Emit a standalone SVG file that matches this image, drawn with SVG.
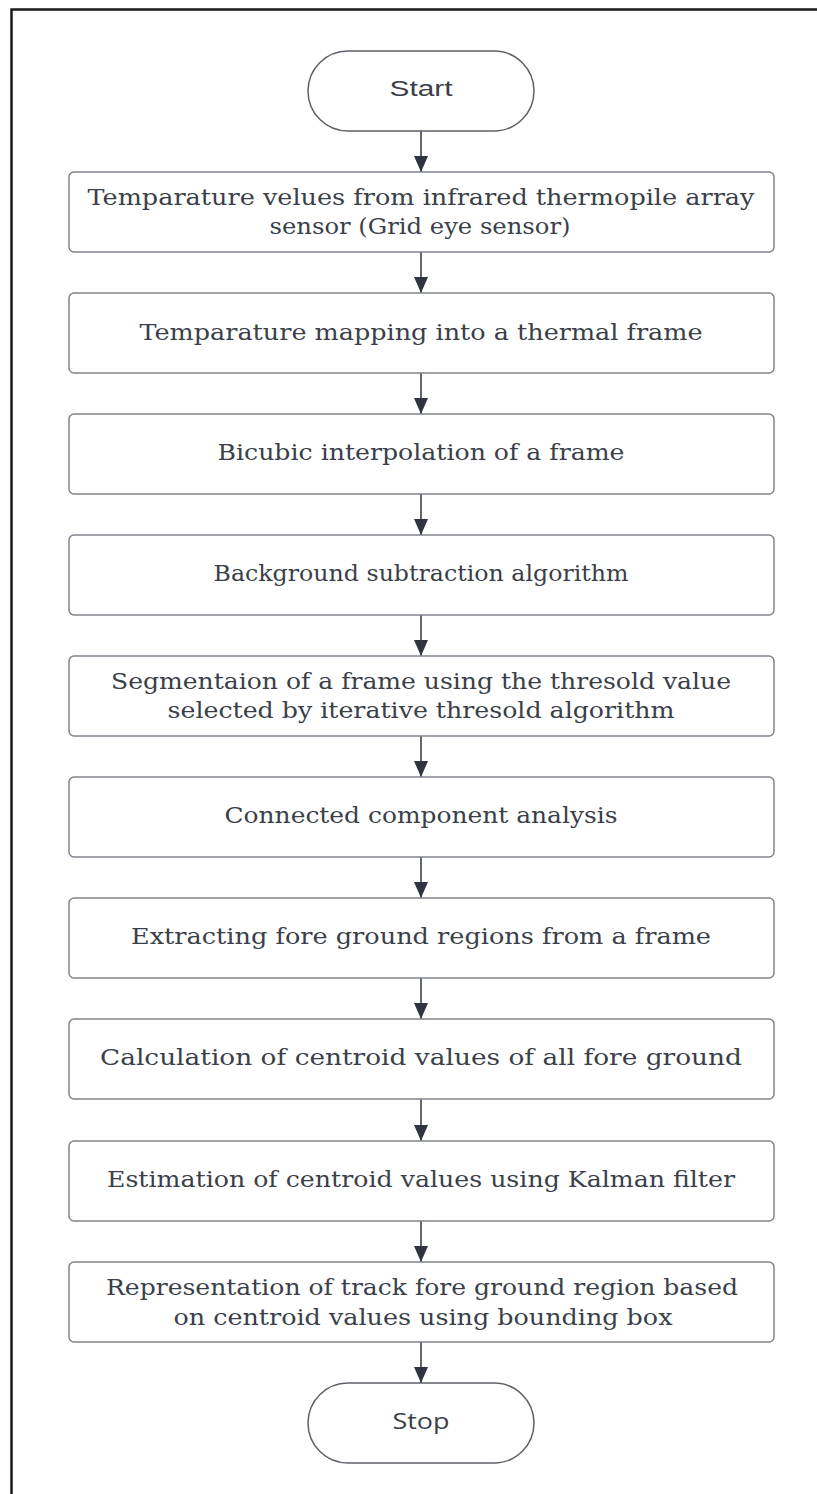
<svg xmlns="http://www.w3.org/2000/svg" width="817" height="1494" viewBox="0 0 817 1494">
  <style>
    .frame { fill: none; stroke: #1a1a1a; stroke-width: 2.5; }
    .term { fill: #ffffff; stroke: #5c6068; stroke-width: 1.5; }
    .box { fill: #ffffff; stroke: #80848c; stroke-width: 1.5; }
    .t { font-family: "DejaVu Serif", "Liberation Serif", serif; font-size: 21.5px; fill: #3a3f4a; text-anchor: middle; }
    .ts { font-family: "Liberation Sans", Arial, sans-serif; font-size: 22px; fill: #3a3f4a; text-anchor: middle; }
    .tso { font-family: "Open Sans", "Noto Sans", sans-serif; font-size: 21px; fill: #3a3f4a; text-anchor: middle; }
    .conn { stroke: #3a3f4a; stroke-width: 1.6; fill: none; }
  </style>
  <defs>
    <marker id="arrow" viewBox="0 0 16 14" refX="16" refY="7" markerWidth="16" markerHeight="14" markerUnits="userSpaceOnUse" orient="auto">
      <path d="M0,0 L16,7 L0,14 Z" fill="#2f3440"/>
    </marker>
  </defs>

  <rect width="817" height="1494" fill="#ffffff"/>
  <!-- outer frame: left and top edges -->
  <path class="frame" d="M11.5,1494 V9.5 H817"/>

  <g id="connectors">
    <line class="conn" x1="421" y1="131" x2="421" y2="172" marker-end="url(#arrow)"/>
    <line class="conn" x1="421" y1="252" x2="421" y2="293" marker-end="url(#arrow)"/>
    <line class="conn" x1="421" y1="373" x2="421" y2="414" marker-end="url(#arrow)"/>
    <line class="conn" x1="421" y1="494" x2="421" y2="535" marker-end="url(#arrow)"/>
    <line class="conn" x1="421" y1="615" x2="421" y2="656" marker-end="url(#arrow)"/>
    <line class="conn" x1="421" y1="736" x2="421" y2="777" marker-end="url(#arrow)"/>
    <line class="conn" x1="421" y1="857" x2="421" y2="898" marker-end="url(#arrow)"/>
    <line class="conn" x1="421" y1="978" x2="421" y2="1019" marker-end="url(#arrow)"/>
    <line class="conn" x1="421" y1="1099" x2="421" y2="1141" marker-end="url(#arrow)"/>
    <line class="conn" x1="421" y1="1221" x2="421" y2="1262" marker-end="url(#arrow)"/>
    <line class="conn" x1="421" y1="1342" x2="421" y2="1383" marker-end="url(#arrow)"/>
  </g>

  <g id="start">
    <rect class="term" x="308" y="51" width="226" height="80" rx="40"/>
    <text class="ts" x="421" y="96" textLength="63" lengthAdjust="spacingAndGlyphs">Start</text>
  </g>

  <g id="step1">
    <rect class="box" x="69" y="172" width="705" height="80" rx="5"/>
    <text class="t" x="421" y="205" textLength="667" lengthAdjust="spacingAndGlyphs">Temparature velues from infrared thermopile array</text>
    <text class="t" x="420" y="234" textLength="301" lengthAdjust="spacingAndGlyphs">sensor (Grid eye sensor)</text>
  </g>

  <g id="step2">
    <rect class="box" x="69" y="293" width="705" height="80" rx="5"/>
    <text class="t" x="421" y="340" textLength="563" lengthAdjust="spacingAndGlyphs">Temparature mapping into a thermal frame</text>
  </g>

  <g id="step3">
    <rect class="box" x="69" y="414" width="705" height="80" rx="5"/>
    <text class="t" x="421" y="460" textLength="407" lengthAdjust="spacingAndGlyphs">Bicubic interpolation of a frame</text>
  </g>

  <g id="step4">
    <rect class="box" x="69" y="535" width="705" height="80" rx="5"/>
    <text class="t" x="421" y="581" textLength="415" lengthAdjust="spacingAndGlyphs">Background subtraction algorithm</text>
  </g>

  <g id="step5">
    <rect class="box" x="69" y="656" width="705" height="80" rx="5"/>
    <text class="t" x="421" y="689" textLength="620" lengthAdjust="spacingAndGlyphs">Segmentaion of a frame using the thresold value</text>
    <text class="t" x="421" y="718" textLength="507" lengthAdjust="spacingAndGlyphs">selected by iterative thresold algorithm</text>
  </g>

  <g id="step6">
    <rect class="box" x="69" y="777" width="705" height="80" rx="5"/>
    <text class="t" x="421" y="823" textLength="393" lengthAdjust="spacingAndGlyphs">Connected component analysis</text>
  </g>

  <g id="step7">
    <rect class="box" x="69" y="898" width="705" height="80" rx="5"/>
    <text class="t" x="421" y="944" textLength="580" lengthAdjust="spacingAndGlyphs">Extracting fore ground regions from a frame</text>
  </g>

  <g id="step8">
    <rect class="box" x="69" y="1019" width="705" height="80" rx="5"/>
    <text class="t" x="421" y="1065" textLength="642" lengthAdjust="spacingAndGlyphs">Calculation of centroid values of all fore ground</text>
  </g>

  <g id="step9">
    <rect class="box" x="69" y="1141" width="705" height="80" rx="5"/>
    <text class="t" x="421" y="1187" textLength="628" lengthAdjust="spacingAndGlyphs">Estimation of centroid values using Kalman filter</text>
  </g>

  <g id="step10">
    <rect class="box" x="69" y="1262" width="705" height="80" rx="5"/>
    <text class="t" x="422" y="1295" textLength="632" lengthAdjust="spacingAndGlyphs">Representation of track fore ground region based</text>
    <text class="t" x="423" y="1325" textLength="499" lengthAdjust="spacingAndGlyphs">on centroid values using bounding box</text>
  </g>

  <g id="stop">
    <rect class="term" x="308" y="1383" width="226" height="80" rx="40"/>
    <text class="tso" x="421" y="1429" textLength="57" lengthAdjust="spacingAndGlyphs">Stop</text>
  </g>
</svg>
